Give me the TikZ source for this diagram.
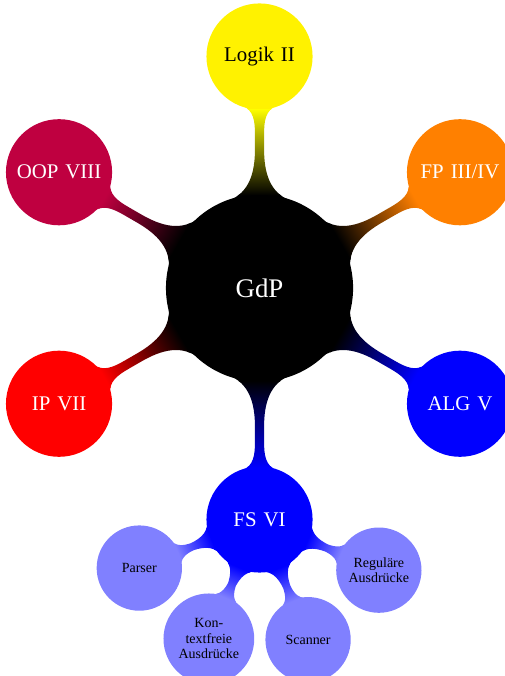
\documentclass[tikz,border=0pt]{standalone}
\usepackage{fontspec}
\setmainfont{Liberation Serif}
\usetikzlibrary{mindmap}
\begin{document}
\begin{tikzpicture}[mindmap, concept color=black, text=white,
  rootc/.style={concept, minimum size=4cm, text width=3.5cm, align=center, font=\fontsize{16.5}{19}\selectfont},
  lone/.style={concept, minimum size=2.25cm, text width=2.1cm, align=center, font=\fontsize{12.8}{15}\selectfont},
  ltwo/.style={concept, minimum size=1.8cm, text width=1.6cm, align=center, font=\fontsize{8.6}{9.6}\selectfont},
  level 1/.append style={level distance=5cm},
  level 2/.append style={level distance=2.8cm}]
\useasboundingbox (-5.605,-8.38) rectangle (5.281,6.22);
\node[rootc] (gdp) {GdP}
  child[grow=90, concept color=yellow, text=black] {node[lone] (logik) {Logik II}}
  child[grow=30, concept color=orange] {node[lone] (fp) {FP III/IV}}
  child[grow=-30, concept color=blue] {node[lone] (alg) {ALG V}}
  child[grow=-90, concept color=blue] {node[lone] (fs) {FS VI}
     child[grow=202.5, concept color=blue!50, text=black] {node[ltwo] (parser) {Parser}}
     child[grow=247.5, concept color=blue!50, text=black] {node[ltwo] (kontext) {Kon-\\textfreie\\Ausdrücke}}
     child[grow=292.5, concept color=blue!50, text=black] {node[ltwo] (scanner) {Scanner}}
     child[grow=337.5, concept color=blue!50, text=black] {node[ltwo] (regulaer) {Reguläre\\Ausdrücke}}
  }
  child[grow=210, concept color=red] {node[lone] (ip) {IP VII}}
  child[grow=150, concept color=purple] {node[lone] (oop) {OOP VIII}};
\end{tikzpicture}
\end{document}
